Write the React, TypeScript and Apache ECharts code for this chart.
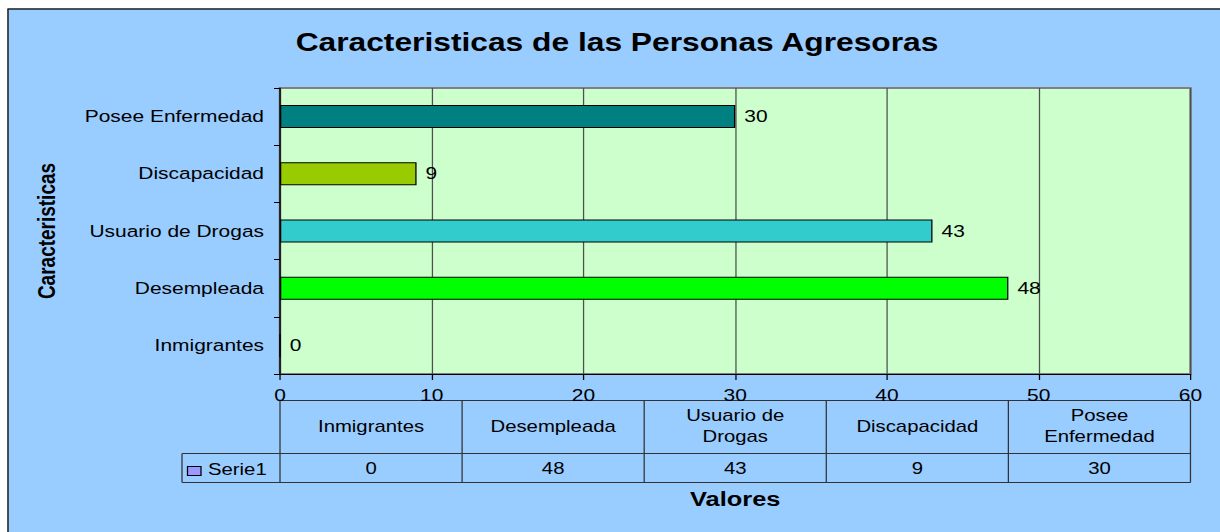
import React, { useEffect, useRef } from "react";
import * as echarts from "echarts";

// ---- data ----
const TITLE = "Caracteristicas de las Personas Agresoras";
const Y_NAME = "Caracteristicas";
const X_NAME = "Valores";
const SERIES_NAME = "Serie1";
const categories = ["Inmigrantes", "Desempleada", "Usuario de Drogas", "Discapacidad", "Posee Enfermedad"];
const tableHeaders = ["Inmigrantes", "Desempleada", "Usuario de\nDrogas", "Discapacidad", "Posee\nEnfermedad"];
const values = [0, 48, 43, 9, 30];
const barColors = ["#9999FF", "#00FF00", "#33CCCC", "#99CC00", "#008080"];
const X_MIN = 0;
const X_MAX = 60;
const X_STEP = 10;

// ---- layout (page px; the chart is drawn narrower and stretched horizontally) ----
const S = 1.27;
const W = 1220;
const H = 532;
const X = (px: number) => px / S;
const FONT = "Liberation Sans, Arial, sans-serif";

export default function App() {
  const ref = useRef<HTMLDivElement>(null);

  useEffect(() => {
    if (!ref.current) return;
    const chart = echarts.init(ref.current, undefined, { renderer: "svg" });

    const option: any = {
      animation: false,
      backgroundColor: "#99CCFF",
      textStyle: { fontFamily: FONT },
      grid: {
        left: X(280),
        right: X(W - 1190),
        top: 88,
        bottom: H - 374,
        show: true,
        backgroundColor: "#CCFFCC",
        borderColor: "#808080",
        borderWidth: 2,
        containLabel: false,
      },
      xAxis: {
        type: "value",
        min: X_MIN,
        max: X_MAX,
        interval: X_STEP,
        axisLine: { show: true, lineStyle: { color: "#000", width: 1 } },
        axisTick: { show: true, length: 6, lineStyle: { color: "#000" } },
        axisLabel: { margin: 13, fontSize: 16.5, lineHeight: 17, color: "#000", fontFamily: FONT },
        splitLine: { show: true, lineStyle: { color: "#505050", width: 1 } },
      },
      yAxis: {
        type: "category",
        data: categories,
        axisLine: { show: true, lineStyle: { color: "#000", width: 1 } },
        axisTick: { show: true, length: X(6), lineStyle: { color: "#000" } },
        axisLabel: { margin: X(16), fontSize: 16.5, color: "#000", fontFamily: FONT },
        splitLine: { show: false },
      },
      series: [
        {
          type: "bar",
          name: SERIES_NAME,
          data: values.map((v, i) => ({ value: v, itemStyle: { color: barColors[i] } })),
          barWidth: 23,
          itemStyle: { borderColor: "#000", borderWidth: 1 },
          label: {
            show: true,
            position: "right",
            distance: X(9),
            fontSize: 16.5,
            color: "#000",
            fontFamily: FONT,
          },
        },
      ],
    };
    chart.setOption(option);

    const gx0 = chart.convertToPixel({ xAxisIndex: 0 }, X_MIN) as number;
    const gx5 = chart.convertToPixel({ xAxisIndex: 0 }, X_MAX) as number;
    const n = tableHeaders.length;
    const colW = (gx5 - gx0) / n;
    const cols = Array.from({ length: n + 1 }, (_, i) => gx0 + i * colW);
    const tTop = 400.5;
    const tMid = 453.5;
    const tBot = 482.5;
    const legLeft = X(182);
    const lineStyle = { stroke: "#333", lineWidth: 1 };

    const g: any[] = [];
    // page margins and outer border
    g.push({ type: "rect", shape: { x: 0, y: 0, width: X(W), height: 8.5 }, style: { fill: "#fff" } });
    g.push({ type: "rect", shape: { x: 0, y: 0, width: X(7.5), height: H }, style: { fill: "#fff" } });
    g.push({ type: "line", shape: { x1: X(7.5), y1: 9, x2: X(W), y2: 9 }, style: { stroke: "#222", lineWidth: 1.5 } });
    g.push({ type: "line", shape: { x1: X(8), y1: 9, x2: X(8), y2: H }, style: { stroke: "#222", lineWidth: 1.2 } });
    // title
    g.push({
      type: "text",
      x: X(617),
      y: 42,
      style: { text: TITLE, fontSize: 25, fontWeight: "bold", fontFamily: FONT, fill: "#000", align: "center", verticalAlign: "middle" },
    });
    // y axis name
    g.push({
      type: "text",
      x: X(47),
      y: 231,
      rotation: Math.PI / 2,
      style: { text: Y_NAME, fontSize: 19, fontWeight: "bold", fontFamily: FONT, fill: "#000", align: "center", verticalAlign: "middle" },
    });
    // data table lines
    g.push({ type: "line", shape: { x1: gx0, y1: tTop, x2: gx5, y2: tTop }, style: lineStyle });
    g.push({ type: "line", shape: { x1: legLeft, y1: tMid, x2: gx5, y2: tMid }, style: lineStyle });
    g.push({ type: "line", shape: { x1: legLeft, y1: tBot, x2: gx5, y2: tBot }, style: lineStyle });
    g.push({ type: "line", shape: { x1: legLeft, y1: tMid, x2: legLeft, y2: tBot }, style: lineStyle });
    cols.forEach((cx) => {
      g.push({ type: "line", shape: { x1: cx, y1: tTop, x2: cx, y2: tBot }, style: lineStyle });
    });
    // header and value texts
    tableHeaders.forEach((h, i) => {
      const cx = (cols[i] + cols[i + 1]) / 2;
      g.push({
        type: "text",
        x: cx,
        y: 426,
        style: { text: h, fontSize: 16, lineHeight: 21, fontFamily: FONT, fill: "#000", align: "center", verticalAlign: "middle" },
      });
      g.push({
        type: "text",
        x: cx,
        y: 468,
        style: { text: String(values[i]), fontSize: 16, fontFamily: FONT, fill: "#000", align: "center", verticalAlign: "middle" },
      });
    });
    // legend key
    g.push({
      type: "rect",
      shape: { x: X(187.5), y: 466.5, width: X(201) - X(187.5), height: 9 },
      style: { fill: "#9999FF", stroke: "#000", lineWidth: 1 },
    });
    g.push({
      type: "text",
      x: X(208),
      y: 469,
      style: { text: SERIES_NAME, fontSize: 16, fontFamily: FONT, fill: "#000", align: "left", verticalAlign: "middle" },
    });
    // x axis name
    g.push({
      type: "text",
      x: (gx0 + gx5) / 2,
      y: 499,
      style: { text: X_NAME, fontSize: 20, fontWeight: "bold", fontFamily: FONT, fill: "#000", align: "center", verticalAlign: "middle" },
    });

    chart.setOption({ graphic: g });

    return () => chart.dispose();
  }, []);

  return (
    <div
      style={{
        position: "fixed",
        left: 0,
        top: 0,
        width: W,
        height: H,
        overflow: "hidden",
        background: "#fff",
      }}
    >
      <div
        ref={ref}
        style={{
          width: W / S,
          height: H,
          transform: `scaleX(${S})`,
          transformOrigin: "0 0",
        }}
      />
    </div>
  );
}
